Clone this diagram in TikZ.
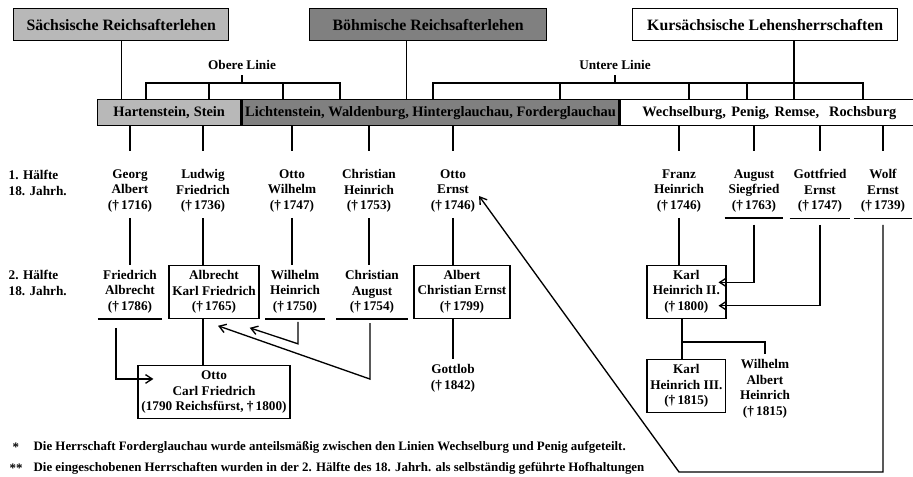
\documentclass[tikz,border=0pt]{standalone}
\usepackage{fontspec}
\setmainfont{Liberation Serif}
\usepackage{tikz}
\usetikzlibrary{positioning}
\usetikzlibrary{arrows.meta}
\definecolor{hellgrau}{gray}{0.72}
\definecolor{dunkelgrau}{gray}{0.5}

\begin{document}
\begin{tikzpicture}[x=0.3mm, y=-0.3mm, line width=0.4mm, node distance=14mm,
    lehen/.style={draw, minimum height=9.6mm, inner sep=0pt, font=\fontsize{13.5}{16}\selectfont\bfseries},
    herr/.style={draw, minimum height=7.8mm, inner sep=0pt, font=\fontsize{12.3}{14}\selectfont\bfseries},
    graf/.style={align=center, inner xsep=1mm, inner ysep=1.5mm, font=\fontsize{11.3}{13.2}\selectfont\bfseries},
    kasten/.style={graf, draw, minimum height=15.9mm},
    fuss/.style={anchor=west, inner sep=0pt, font=\fontsize{11}{13}\selectfont\bfseries},
    arr/.style={-{Straight Barb[length=2mm, width=2.6mm]}}]

    \useasboundingbox (0,0) rectangle (913,477);
    \clip (0,0) rectangle (913,477);

    \node[lehen, fill=hellgrau, minimum width=64.5mm, anchor=north west] (saechs) at (13,8) {Sächsische Reichsafterlehen};
    \node[lehen, fill=dunkelgrau, minimum width=71.1mm, anchor=north west] (boehm) at (309,8) {Böhmische Reichsafterlehen};
    \node[lehen, fill=white, minimum width=79.5mm, anchor=north west] (kurs) at (632,8) {Kursächsische Lehensherrschaften};

    \node[herr, fill=hellgrau, minimum width=42.9mm, anchor=north west] (hart) at (97,99) {Hartenstein,\hspace{1.2mm}Stein\hspace{4mm}};
    \node[herr, fill=dunkelgrau, minimum width=113.1mm, right=0pt of hart] (licht) {Lichtenstein, Waldenburg, Hinterglauchau, Forderglauchau};
    \node[herr, fill=white, minimum width=89.4mm, right=0pt of licht] (wech) {Wechselburg,\hspace{1.6mm}Penig,\hspace{1.6mm}Remse,\hspace{3mm}Rochsburg};

    \node[graf] (obere) at (242,65) {Obere Linie};
    \node[graf] (untere) at (615,65) {Untere Linie};

    \draw (saechs) -- (saechs |- hart.north);
    \draw ([xshift=-6.5mm]boehm.south) -- ++(0,59);
    \draw ([xshift=8.6mm]kurs.south) -- ++(0,59);

    \draw (obere.south) -- ++(0,9);
    \draw (146,99) |- (340,83) -- (340,99);
    \foreach \x in {209,283}
        \draw (\x,83) -- (\x,99);
    \draw (untere.south) -- ++(0,9);
    \draw (433,99) |- (863,83) -- (863,99);
    \foreach \x in {560,689,747}
        \draw (\x,83) -- (\x,99);

    \node[graf, anchor=west, align=left, inner xsep=0pt] (haelfte1) at (8,183) {1. Hälfte\\18. Jahrh.};
    \node[graf, anchor=west, align=left, inner xsep=0pt] (haelfte2) at (8,283) {2. Hälfte\\18. Jahrh.};

    % 1. Haelfte
    \node[graf] (georg) at (130,191) {Georg\\Albert\\(†\,1716)};
    \node[graf] (ludwig) at (203,191) {Ludwig\\Friedrich\\(†\,1736)};
    \node[graf] (ottow) at (292,191) {Otto\\Wilhelm\\(†\,1747)};
    \node[graf] (christianh) at (369,191) {Christian\\Heinrich\\(†\,1753)};
    \node[graf] (ottoe) at (453,191) {Otto\\Ernst\\(†\,1746)};
    \node[graf] (franz) at (679,191) {Franz\\Heinrich\\(†\,1746)};
    \node[graf, minimum width=17.1mm] (august) at (754,191) {August\\Siegfried\\(†\,1763)};
    \node[graf, minimum width=16.8mm] (gottfried) at (820,191) {Gottfried\\Ernst\\(†\,1747)};
    \node[graf, minimum width=17.1mm] (wolf) at (883,191) {Wolf\\Ernst\\(†\,1739)};

    \foreach \n in {georg,ludwig,ottow,christianh,ottoe,franz,august,gottfried,wolf}
        \draw (\n.north |- hart.south) -- ++(0,25);

    % 2. Haelfte
    \node[graf, below=of georg, minimum width=18.9mm] (friedrich) {Friedrich\\Albrecht\\(†\,1786)};
    \node[kasten, below=of ludwig, xshift=3.3mm, minimum width=26.4mm] (albrecht) {Albrecht\\Karl Friedrich\\(†\,1765)};
    \node[graf, below=of ottow, xshift=0.9mm, minimum width=17.4mm] (wilhelmh) {Wilhelm\\Heinrich\\(†\,1750)};
    \node[graf, below=of christianh, xshift=0.9mm, minimum width=21mm] (christiana) {Christian\\August\\(†\,1754)};
    \node[kasten, below=of ottoe, xshift=2.7mm, minimum width=28.8mm] (albert) {Albert\\Christian Ernst\\(†\,1799)};
    \node[graf, below=12mm of albert, xshift=-2.7mm] (gottlob) {Gottlob\\(†\,1842)};
    \node[kasten, below=of franz, xshift=2.2mm, minimum width=23.7mm] (karl2) {Karl\\Heinrich II.\\(†\,1800)};
    \node[kasten, below=13.8mm of albrecht, minimum width=44.4mm] (otto) {Otto\\Carl Friedrich\\(1790 Reichsfürst, †\,1800)};
    \node[kasten, below=12mm of karl2, minimum width=23.4mm] (karl3) {Karl\\Heinrich III.\\(†\,1815)};
    \node[graf] (wilhelma) at (765,389) {Wilhelm\\Albert\\Heinrich\\(†\,1815)};

    \foreach \n in {august,gottfried,wolf,friedrich,wilhelmh,christiana}
        \draw (\n.south west) -- (\n.south east);

    \draw (georg) -- (friedrich);
    \draw (ludwig) -- (ludwig |- albrecht.north);
    \draw (ottow) -- (ottow |- wilhelmh.north);
    \draw (christianh) -- (christianh |- christiana.north);
    \draw (ottoe) -- (ottoe |- albert.north);
    \draw (franz) -- (franz |- karl2.north);
    \draw (gottlob |- albert.south) -- (gottlob);
    \draw (ludwig |- albrecht.south) -- (ludwig |- otto.north);

    \coordinate (gabel) at (682,342);
    \draw (gabel |- karl2.south) -- (gabel |- karl3.north);
    \draw (gabel) -| (wilhelma.north);

    \draw[arr] ([xshift=-4.2mm,yshift=-2.7mm]friedrich.south) |- ([xshift=4.8mm,yshift=4mm]otto.west);
    \draw[arr] ([xshift=0.9mm,yshift=-0.9mm]wilhelmh.south) -- ++(0,22) -- ([xshift=-3mm,yshift=-2.6mm]albrecht.south east);
    \draw[arr] ([xshift=-0.6mm,yshift=-1.2mm]christiana.south) -- ++(0,56) -- ([xshift=1.2mm,yshift=-2mm]albrecht.south);
    \draw[arr] ([yshift=-2mm]august.south) |- ([xshift=-2.4mm,yshift=2.8mm]karl2.east);
    \draw[arr] ([yshift=-2mm]gottfried.south) |- ([xshift=-2.4mm,yshift=-4.2mm]karl2.east);

    \coordinate (knick) at (679,472);
    \draw[arr] ([yshift=-2mm]wolf.south) |- (knick) -- ([yshift=-1.5mm]ottoe.east);

    % Fussnoten
    \node[fuss] (stern1) at (12,447) {*};
    \node[fuss] (fn1) at (33,447) {Die Herrschaft Forderglauchau wurde anteilsmäßig zwischen den Linien Wechselburg und Penig aufgeteilt.};
    \node[fuss] (stern2) at (9,468) {**};
    \node[fuss] (fn2) at (33,468) {Die eingeschobenen Herrschaften wurden in der 2. Hälfte des 18. Jahrh. als selbständig geführte Hofhaltungen};
\end{tikzpicture}
\end{document}
